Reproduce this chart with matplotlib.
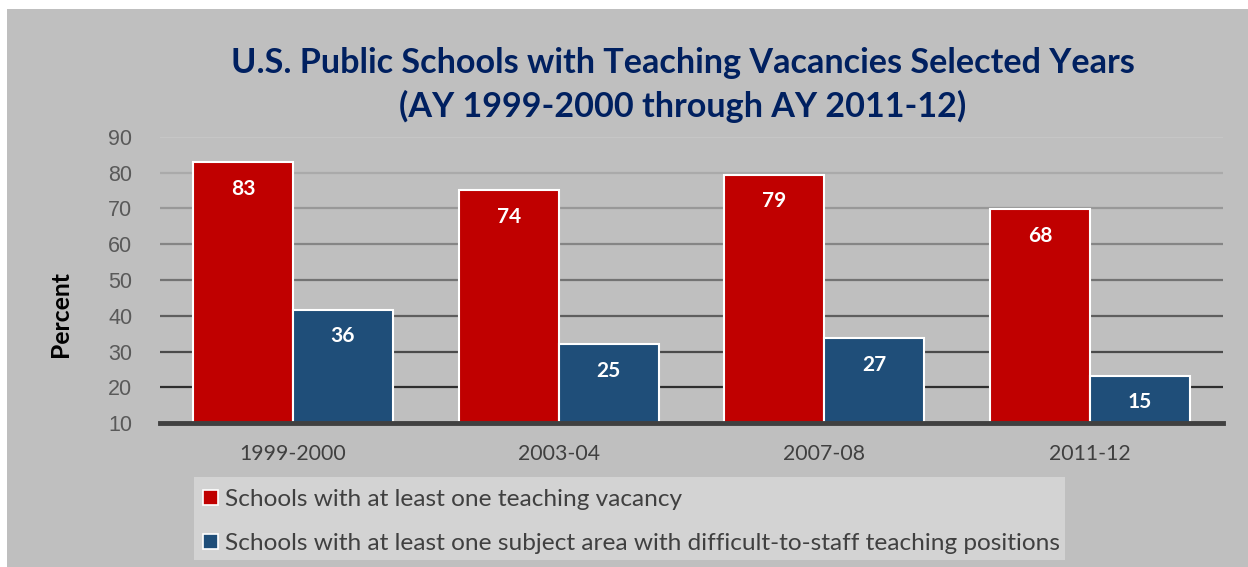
import matplotlib
matplotlib.use("Agg")
import matplotlib.pyplot as plt
from matplotlib.patches import Rectangle, Patch
import numpy as np

categories = ["1999-2000", "2003-04", "2007-08", "2011-12"]
vacancy = [83, 74, 79, 68]
difficult = [36, 25, 27, 15]
series_names = ["Schools with at least one teaching vacancy",
                "Schools with at least one subject area with difficult-to-staff teaching positions"]
title = "U.S. Public Schools with Teaching Vacancies Selected Years\n(AY 1999-2000 through AY 2011-12)"
# tick labels as printed in the source chart (the bars themselves are measured from 0)
ytick_labels = ["10", "20", "30", "40", "50", "60", "70", "80", "90"]

W, H = 1248, 567
DPI = 100
fig = plt.figure(figsize=(W / DPI, H / DPI), dpi=DPI, facecolor="white")

def fx(px):
    return px / W

def fy(py):
    return 1 - py / H

# gray panel
fig.patches.append(Rectangle((fx(7), 0), 1 - fx(7), fy(9), transform=fig.transFigure,
                             facecolor="#BFBFBF", edgecolor="none", zorder=-10))
# legend panel
fig.patches.append(Rectangle((fx(194), fy(560)), fx(1065 - 194), (560 - 477) / H,
                             transform=fig.transFigure, facecolor="#D3D3D3",
                             edgecolor="none", zorder=-5))

left, right, top, bottom = 160, 1223, 137, 423
ymax = 91
ax = fig.add_axes([fx(left), fy(bottom), fx(right - left), (bottom - top) / H])
ax.set_zorder(1)
ax.set_facecolor("none")
ax.set_xlim(-0.5, len(categories) - 0.5)
ax.set_ylim(0, ymax)

ytick_pos = np.linspace(0, ymax, len(ytick_labels))
grid_colors = ["#404040", "#2E2E2E", "#4A4A4A", "#5E5E5E", "#737373", "#858585", "#989898", "#AAAAAA", "#C6C6C6"]
for t, c in zip(ytick_pos[1:], grid_colors[1:]):
    ax.axhline(t, color=c, lw=1.6, zorder=1)
ax.axhline(0, color="#404040", lw=3.5, zorder=4, clip_on=False)

x = np.arange(len(categories))
bw = 0.376
b1 = ax.bar(x - bw / 2, vacancy, bw, color="#C00000", edgecolor="white", lw=1.5, zorder=3)
b2 = ax.bar(x + bw / 2, difficult, bw, color="#1F4E79", edgecolor="white", lw=1.5, zorder=3)

for bars, vals in ((b1, vacancy), (b2, difficult)):
    for rect, v in zip(bars, vals):
        ax.annotate(str(v), (rect.get_x() + rect.get_width() / 2, v), xytext=(0, -19),
                    textcoords="offset points", ha="center", va="center",
                    color="white", fontsize=15, fontweight="bold", family="Lato", zorder=5)

for s in ax.spines.values():
    s.set_visible(False)
ax.set_yticks(ytick_pos)
ax.set_yticklabels(ytick_labels, family="Liberation Sans", fontsize=15.5, color="#595959")
ax.tick_params(axis="y", length=0, pad=20)
ax.set_xticks(x)
ax.set_xticklabels(categories, family="Lato", fontsize=15.3, color="#404040")
ax.tick_params(axis="x", length=0, pad=15)

ax.set_ylabel("Percent", family="Lato", fontsize=17.8, fontweight="bold", color="black")
ax.yaxis.set_label_coords((72 - left) / (right - left), (bottom - 314) / (bottom - top))

fig.text(fx(683), fy(85), title, ha="center", va="center", family="Lato", fontweight="bold",
         fontsize=24.6, color="#002060", linespacing=1.38)

handles = [Patch(facecolor="#C00000", edgecolor="white", lw=1.2),
           Patch(facecolor="#1F4E79", edgecolor="white", lw=1.2)]
leg = fig.legend(handles, series_names, loc="upper left", bbox_to_anchor=(fx(203), fy(489)),
                 frameon=False, prop={"family": "Lato", "size": 17.6}, labelcolor="#404040",
                 handlelength=0.6, handleheight=0.6, handletextpad=0.3, labelspacing=0.95,
                 borderpad=0, borderaxespad=0)

fig.savefig("out.png", dpi=DPI, facecolor="white")
